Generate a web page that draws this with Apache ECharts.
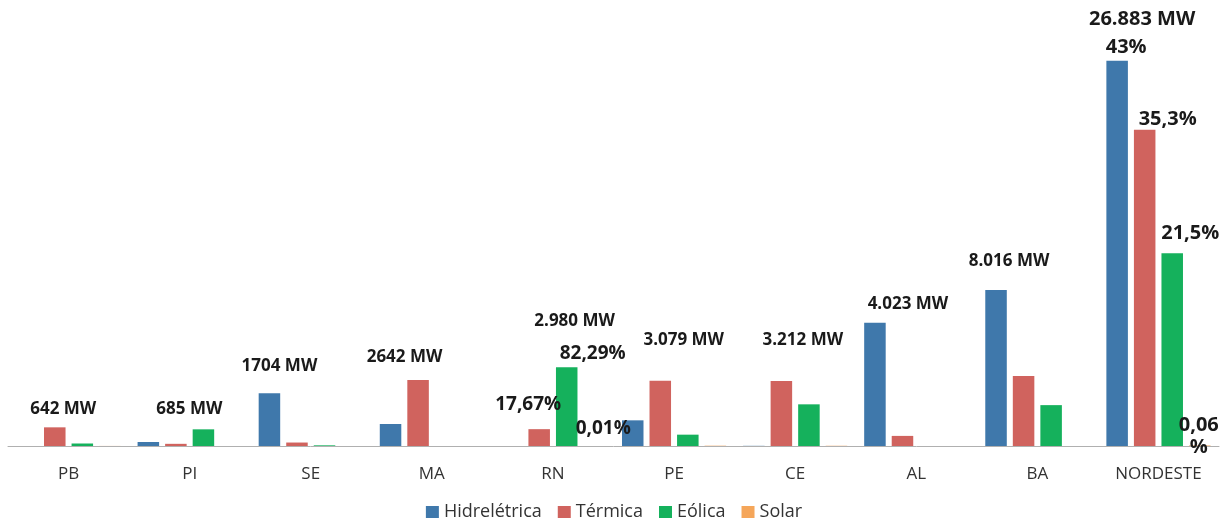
<!DOCTYPE html>
<html>
<head>
<meta charset="utf-8">
<script src="https://cdn.jsdelivr.net/npm/echarts@6/dist/echarts.min.js"></script>
<style>
html, body { margin: 0; padding: 0; background: #fff; }
#chart { width: 1228px; height: 525px; }
</style>
</head>
<body>
<div id="chart"></div>
<script>
// dados (MW)
var estados = ['PB', 'PI', 'SE', 'MA', 'RN', 'PE', 'CE', 'AL', 'BA', 'NORDESTE'];
var hidreletrica = [0, 120, 1580, 660, 0, 770, 5, 3700, 4680, 11560];
var termica = [560, 65, 104, 1980, 505, 1960, 1950, 303, 2100, 9490];
var eolica = [75, 500, 20, 0, 2360, 340, 1250, 0, 1226, 5780];
var solar = [2, 0, 0, 0, 0.3, 9, 7, 0, 0, 16];
var totais = ['642 MW', '685 MW', '1704 MW', '2642 MW', '2.980 MW', '3.079 MW', '3.212 MW', '4.023 MW', '8.016 MW', '26.883 MW'];
// [serie, estado, texto]
var percentuais = [
    [1, 4, '17,67%'],
    [2, 4, '82,29%'],
    [3, 4, '0,01%'],
    [0, 9, '43%'],
    [1, 9, '35,3%'],
    [2, 9, '21,5%'],
    [3, 9, '0,06\n%']
];

// posicao dos rotulos (px, relativo ao topo da barra)
var offTotais = [[36, -18], [41, -20], [10, -27], [14, -23], [63, -46], [51, -41], [49, -41], [33, -19], [13, -29], [25, -41]];
var offPercentuais = [[-11, -10], [26, 1], [9, -2], [9, 2], [23, 5], [18, -5], [-1, 18]];

var nomes = ['Hidrelétrica', 'Térmica', 'Eólica', 'Solar'];
var cores = ['#3f78ab', '#d0635e', '#15b15c', '#f5a65a'];
var valores = [hidreletrica, termica, eolica, solar];

var chart = echarts.init(document.getElementById('chart'));

var series = valores.map(function (vals, s) {
    var data = vals.map(function (v) { return v; });
    percentuais.forEach(function (p, k) {
        if (p[0] !== s) return;
        data[p[1]] = {
            value: vals[p[1]],
            label: {
                show: true,
                position: 'top',
                formatter: p[2],
                offset: offPercentuais[k],
                color: '#1a1a1a',
                fontFamily: 'Open Sans',
                fontWeight: 'bold',
                fontSize: p[1] === 9 ? 20 : 19,
                lineHeight: p[2].indexOf('\n') >= 0 ? 22 : 20
            }
        };
    });
    var item = {
        name: nomes[s],
        type: 'bar',
        barGap: '28%',
        barCategoryGap: '14%',
        itemStyle: { color: cores[s] },
        data: data
    };
    if (s === 0) {
        // totais por estado, ancorados na barra mais alta do grupo
        item.markPoint = {
            symbol: 'circle',
            symbolSize: 0,
            label: {
                show: true,
                position: 'inside',
                formatter: '{b}',
                color: '#1a1a1a',
                fontFamily: 'Open Sans',
                fontWeight: 'bold',
                fontSize: 17
            },
            data: estados.map(function (e, i) {
                var topo = Math.max(hidreletrica[i], termica[i], eolica[i], solar[i]);
                return {
                    name: totais[i],
                    coord: [e, topo],
                    label: { offset: offTotais[i], fontSize: i === 9 ? 20 : 17 }
                };
            })
        };
    }
    return item;
});

var option = {
    animation: false,
    color: cores,
    grid: { left: 8, right: 9, top: 46, bottom: 79 },
    legend: {
        data: nomes,
        bottom: -1,
        left: 'center',
        icon: 'rect',
        itemWidth: 13,
        itemHeight: 12,
        itemGap: 16,
        textStyle: { color: '#333', fontFamily: 'Open Sans', fontSize: 18 }
    },
    xAxis: {
        type: 'category',
        data: estados,
        axisLine: { lineStyle: { color: '#b0b0b0', width: 1 } },
        axisTick: { show: false },
        axisLabel: { color: '#333', fontFamily: 'Open Sans', fontSize: 17, margin: 20 }
    },
    yAxis: {
        type: 'value',
        min: 0,
        max: 12000,
        show: false,
        splitLine: { show: false }
    },
    series: series
};
chart.setOption(option);
</script>
</body>
</html>
